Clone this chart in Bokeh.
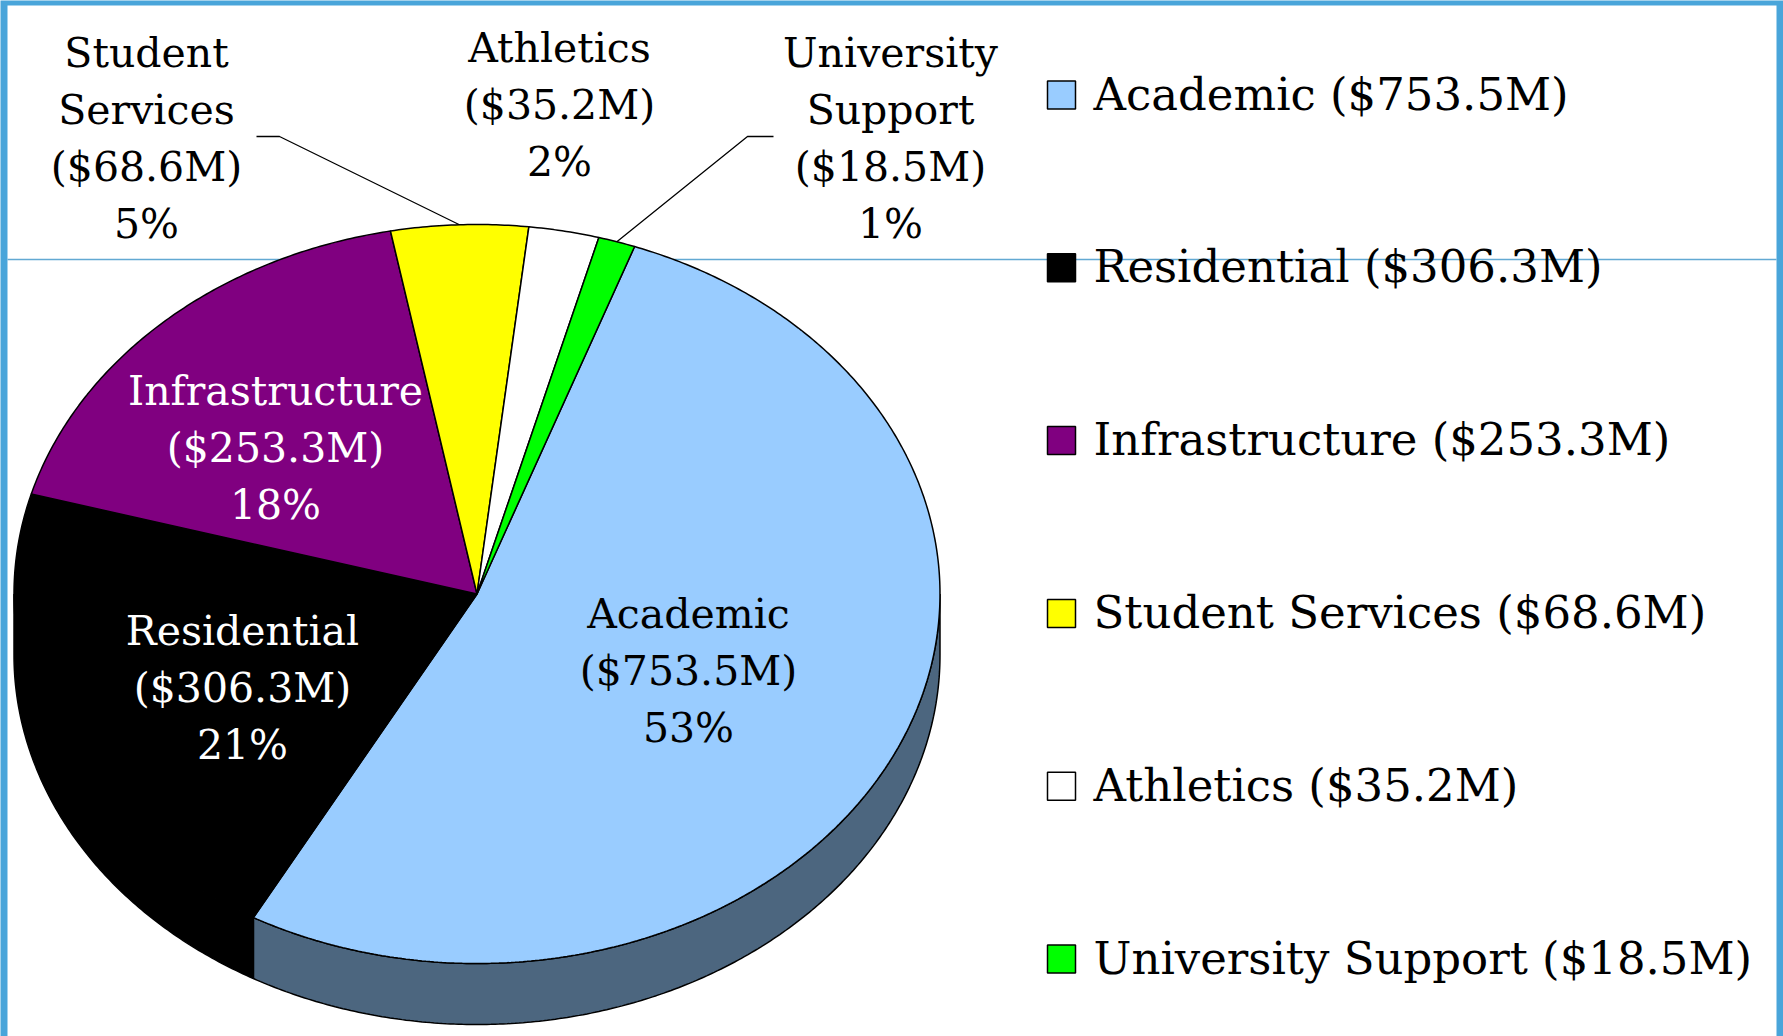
import math
from bokeh.plotting import figure
from bokeh.models import Range1d
from bokeh.core.properties import value
from bokeh.embed import file_html
from bokeh.resources import INLINE

# ---------------- data ----------------
categories = ["Academic", "Residential", "Infrastructure", "Student Services", "Athletics", "University Support"]
amounts = [753.5, 306.3, 253.3, 68.6, 35.2, 18.5]          # $M
percent_labels = ["53%", "21%", "18%", "5%", "2%", "1%"]
name_lines = [["Academic"], ["Residential"], ["Infrastructure"], ["Student", "Services"],
              ["Athletics"], ["University", "Support"]]
colors = ["#99CCFF", "#000000", "#800080", "#FFFF00", "#FFFFFF", "#00FF00"]
label_colors = ["black", "white", "white", "black", "black", "black"]

# ---------------- layout ----------------
W, H = 1783, 1036
CX, CY, RX, RY, DEPTH = 476.5, 593.5, 463.0, 369.5, 61.0
START_DEG = 70.1
FONT = value("DejaVu Serif")
LABEL_SIZE = "41px"
LEGEND_SIZE = "45px"
LINE_SP = 57
label_xy = [(688, 613), (242, 630), (275, 390), (146, 52), (559, 47), (890, 52)]
leader_elbows = {3: [(256, 136), (279, 136)], 5: [(773, 136), (747, 136)]}
LEG_X_BOX, LEG_X_TEXT, LEG_Y0, LEG_DY, LEG_BOX = 1061, 1093, 94.5, 172.8, 28
LEG_TEXT_DY = -1

p = figure(width=W, height=H, x_range=Range1d(0, W), y_range=Range1d(H, 0),
           output_backend="svg", toolbar_location=None, min_border=0)
p.axis.visible = False
p.grid.visible = False
p.outline_line_color = None
p.background_fill_color = "#49a5da"
p.border_fill_color = "#49a5da"

# white slide panel + thin blue rule
p.quad(left=7, right=1776, top=5, bottom=H, fill_color="white", line_color=None)
p.segment(x0=7, y0=259, x1=1776, y1=259, line_color="#62a9d3", line_width=1.5)


def pt(t_deg, dy=0.0):
    t = math.radians(t_deg)
    return CX + RX * math.cos(t), CY - RY * math.sin(t) + dy


def arc(t0, t1, dy=0.0):
    n = max(6, int(abs(t1 - t0) * 2))
    xs, ys = [], []
    for k in range(n + 1):
        x, y = pt(t0 + (t1 - t0) * k / n, dy)
        xs.append(x)
        ys.append(y)
    return xs, ys


def darken(hx, f=0.5):
    hx = hx.lstrip("#")
    r, g, b = (int(hx[i:i + 2], 16) for i in (0, 2, 4))
    return "#%02x%02x%02x" % (int(r * f), int(g * f), int(b * f))


total = sum(amounts)
spans = []
cur = START_DEG
for a in amounts:
    sweep = 360.0 * a / total
    spans.append((cur, cur - sweep))
    cur -= sweep

# side faces (front half only)
side_xs, side_ys, side_cols = [], [], []
for (ts, te), c in zip(spans, colors):
    for shift in (-360, 0, 360):
        lo = max(te + shift, -180.0)
        hi = min(ts + shift, 0.0)
        if hi > lo:
            tx, ty = arc(hi, lo)
            bx, by = arc(lo, hi, DEPTH)
            side_xs.append(tx + bx)
            side_ys.append(ty + by)
            side_cols.append(darken(c))
p.patches(side_xs, side_ys, fill_color=side_cols, line_color="black", line_width=1.5)

# top faces
top_xs, top_ys = [], []
for ts, te in spans:
    ax, ay = arc(ts, te)
    top_xs.append([CX] + ax)
    top_ys.append([CY] + ay)
p.patches(top_xs, top_ys, fill_color=colors, line_color="black", line_width=1.5)

# leader lines
for i, elbows in leader_elbows.items():
    ts, te = spans[i]
    ex, ey = pt((ts + te) / 2)
    xs = [e[0] for e in elbows] + [ex]
    ys = [e[1] for e in elbows] + [ey]
    p.line(xs, ys, line_color="black", line_width=1.3)

# data labels
lx, ly, lt, lc = [], [], [], []
for i, cat in enumerate(categories):
    lines = name_lines[i] + ["($%.1fM)" % amounts[i], percent_labels[i]]
    x0, y0 = label_xy[i]
    for k, s in enumerate(lines):
        lx.append(x0)
        ly.append(y0 + k * LINE_SP)
        lt.append(s)
        lc.append(label_colors[i])
p.text(x=lx, y=ly, text=lt, text_color=lc, text_font=FONT, text_font_size=LABEL_SIZE,
       text_align="center", text_baseline="alphabetic")

# legend
ry = [LEG_Y0 + i * LEG_DY for i in range(len(categories))]
p.rect(x=[LEG_X_BOX] * len(categories), y=ry, width=LEG_BOX, height=LEG_BOX,
       fill_color=colors, line_color="black", line_width=1.5)
p.text(x=[LEG_X_TEXT] * len(categories), y=[v + LEG_TEXT_DY for v in ry],
       text=["%s ($%.1fM)" % (c, a) for c, a in zip(categories, amounts)],
       text_color="black", text_font=FONT, text_font_size=LEGEND_SIZE,
       text_align="left", text_baseline="alphabetic")

open("out.html", "w").write(file_html(p, INLINE))
